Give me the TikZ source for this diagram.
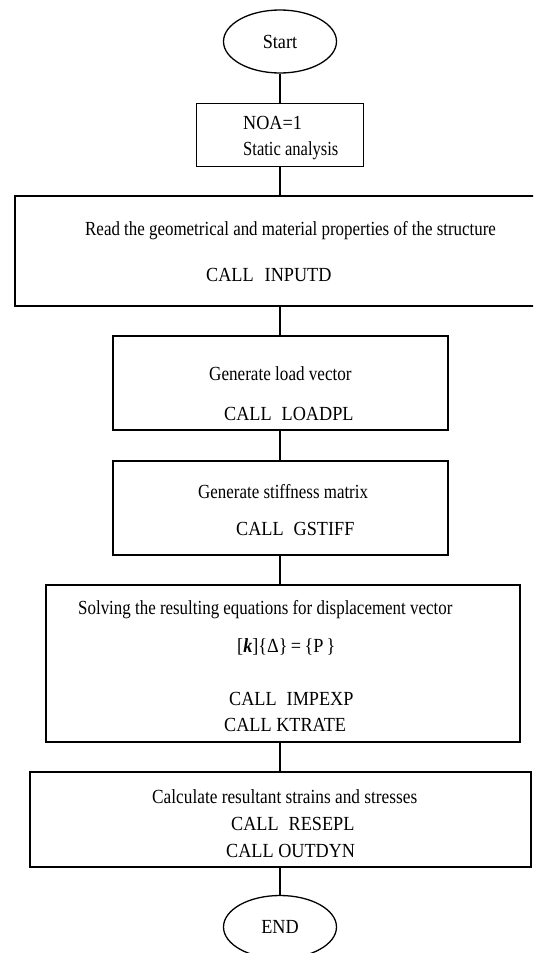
\documentclass[tikz,border=0pt]{standalone}
\usepackage{fontspec}
\setmainfont[FakeStretch=0.91]{Liberation Serif}
\usetikzlibrary{shapes.geometric}
\newcommand{\narrow}[2][0.94]{\scalebox{#1}[1]{#2}}
\begin{document}
\begin{tikzpicture}[x=1pt,y=-1pt,
  every node/.style={font=\fontsize{20}{24}\selectfont},
  box/.style={draw, line width=1.3pt, rectangle, inner sep=0pt},
  term/.style={draw, line width=1.3pt, ellipse, inner sep=0pt, minimum width=113pt, minimum height=63pt},
  conn/.style={line width=1.3pt},
  txt/.style={anchor=base west, inner sep=0pt}]
\clip (0,0) rectangle (533,953);
\fill[white] (0,0) rectangle (533,953);
% terminals and boxes
\node[term] (start) at (280,41.5) {Start};
\node[box, minimum width=167pt, minimum height=63pt] (noa) at (280,135) {};
\node[box, minimum width=535pt, minimum height=110pt] (read) at (282.5,251) {};
\node[box, minimum width=335pt, minimum height=94pt] (load) at (280.5,383) {};
\node[box, minimum width=335pt, minimum height=94pt] (stiff) at (280.5,508) {};
\node[box, minimum width=474pt, minimum height=157pt] (solve) at (283,663.5) {};
\node[box, minimum width=501pt, minimum height=95pt] (calc) at (280.5,819.5) {};
\node[term] (endn) at (280,927) {END};
% texts
\node[txt] (t1) at (243,129) {NOA=1};
\node[txt] (t2) at (243,155) {\narrow[0.91]{Static analysis}};
\node[txt] (t3) at (85,235) {\narrow[0.93]{Read the geometrical and material properties of the structure}};
\node[txt] (t4) at (206,281) {CALL\hspace{0.55em}INPUTD};
\node[txt] (t5) at (209,380) {\narrow{Generate load vector}};
\node[txt] (t6) at (224,420) {CALL\hspace{0.5em}LOADPL};
\node[txt] (t7) at (198,498) {\narrow[0.93]{Generate stiffness matrix}};
\node[txt] (t8) at (236,535) {CALL\hspace{0.5em}GSTIFF};
\node[txt] (t9) at (78,614) {\narrow[0.93]{Solving the resulting equations for displacement vector}};
\node[txt] (t10) at (237,652) {[\textbf{\textit{k}}]\{Δ\}\,=\,\{P\,\}};
\node[txt] (t11) at (229,705) {CALL\hspace{0.5em}IMPEXP};
\node[txt] (t12) at (224,731) {CALL KTRATE};
\node[txt] (t13) at (152,803) {\narrow[0.95]{Calculate resultant strains and stresses}};
\node[txt] (t14) at (231,830) {CALL\hspace{0.5em}RESEPL};
\node[txt] (t15) at (226,857) {CALL OUTDYN};
% connectors
\draw[conn] (start.south) -- (noa.north);
\draw[conn] (noa.south) -- (noa.south |- read.north);
\draw[conn] (read.south -| noa.south) -- (noa.south |- load.north);
\draw[conn] (load.south -| noa.south) -- (noa.south |- stiff.north);
\draw[conn] (stiff.south -| noa.south) -- (noa.south |- solve.north);
\draw[conn] (solve.south -| noa.south) -- (noa.south |- calc.north);
\draw[conn] (calc.south -| noa.south) -- (endn.north);
\end{tikzpicture}
\end{document}
